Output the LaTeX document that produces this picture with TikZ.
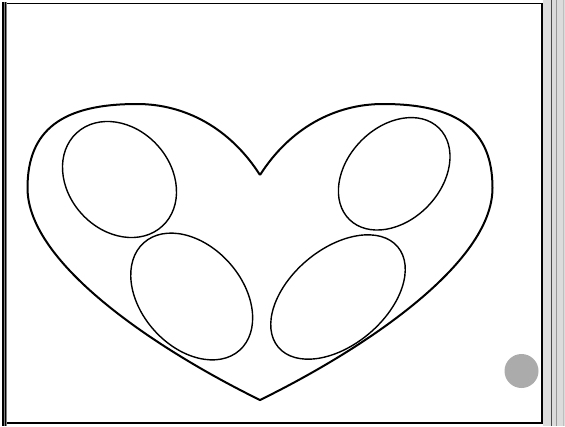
\documentclass[tikz,border=0pt]{standalone}
\usepackage{tikz}

\definecolor{panelgray}{HTML}{DCDCDC}
\definecolor{dotgray}{HTML}{ABABAB}

\begin{document}
\begin{tikzpicture}[x=1pt,y=-1pt,
  heart/.style={line width=2pt,line join=miter},
  blob/.style={line width=1.4pt},
  rim/.style={line width=1pt}]
 \useasboundingbox (0,0) rectangle (565,426);
 \fill[panelgray] (543,0) rectangle (565,426);
 \draw[rim,black!70] (551,0) -- (551,426);
 \draw[rim,black!40] (556.5,0) -- (556.5,426);
 \draw[rim,black!25] (563,0) -- (563,426);
 \draw[line width=1.6pt] (3,3.3) -- (541.8,3.3) -- (541.8,423) -- (3,423);
 \draw[line width=2pt] (3,2) -- (3,426);
 \draw[rim,black!50] (4.5,2) -- (4.5,426);
 \draw[rim] (5.5,2) -- (5.5,426);
 \draw[rim,black!50] (6.6,2) -- (6.6,426);
 \draw[heart] (260,175)
   .. controls (230,128) and (185,104) .. (137,104)
   .. controls (62,104) and (27.5,130) .. (27.5,188)
   .. controls (27.5,264) and (158,350) .. (260,400)
   .. controls (362,350) and (492.5,264) .. (492.5,188)
   .. controls (492.5,130) and (458,104) .. (383,104)
   .. controls (335,104) and (290,128) .. (260,175);
 \draw[blob,rotate around={-47.4:(119.5,179.5)}] (119.5,179.5)
   ellipse [x radius=63.3,y radius=51.1];
 \draw[blob,rotate around={-48.3:(191.7,296.5)}] (191.7,296.5)
   ellipse [x radius=72,y radius=50.5];
 \draw[blob,rotate around={45.7:(394.2,173.8)}] (394.2,173.8)
   ellipse [x radius=64,y radius=46.7];
 \draw[blob,rotate around={40:(338,297)}] (338,297)
   ellipse [x radius=78,y radius=48];
 \fill[dotgray] (521.5,371) circle (17);
\end{tikzpicture}
\end{document}
